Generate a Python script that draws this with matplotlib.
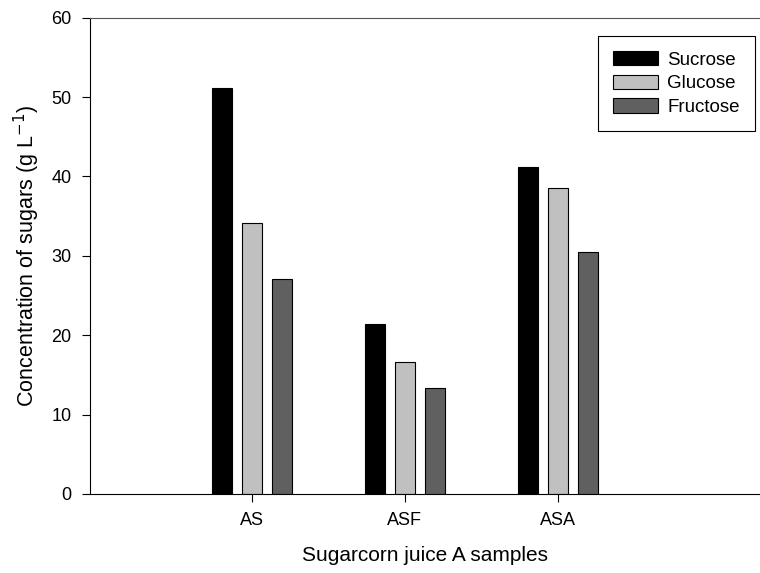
import numpy as np
import matplotlib
matplotlib.use("Agg")
import matplotlib.pyplot as plt

plt.rcParams['font.family'] = ['Liberation Sans', 'DejaVu Sans']

samples = ["AS", "ASF", "ASA"]
sucrose = [51.2, 21.4, 41.2]
glucose = [34.1, 16.6, 38.5]
fructose = [27.1, 13.4, 30.5]

series = [("Sucrose", sucrose, "#000000"),
          ("Glucose", glucose, "#c0c0c0"),
          ("Fructose", fructose, "#606060")]

fig = plt.figure(figsize=(7.6, 5.73), dpi=100)
ax = fig.add_axes([0.118, 0.138, 0.882, 0.831])

x = np.arange(1, len(samples) + 1)
width = 0.13
offset = 0.196
for i, (name, vals, color) in enumerate(series):
    ax.bar(x + (i - 1) * offset, vals, width, color=color, edgecolor="black",
           linewidth=0.8, label=name)

ax.set_xlim(-0.06, 4.32)
ax.set_ylim(0, 60)
ax.set_yticks(range(0, 61, 10))
ax.set_xticks(x)
ax.set_xticklabels(samples)
ax.tick_params(axis="both", direction="out", length=6, labelsize=13, pad=7)
ax.spines["right"].set_visible(False)
ax.spines["top"].set_color("#555555")

ax.set_ylabel("Concentration of sugars (g L$^{-1}$)", fontsize=15.5, labelpad=7)
ax.set_xlabel("Sugarcorn juice A samples", fontsize=15, labelpad=12)

leg = ax.legend(loc="upper right", bbox_to_anchor=(0.992, 0.962), fontsize=13.5,
                fancybox=False, edgecolor="black", framealpha=1,
                handlelength=2.4, handleheight=0.8, borderpad=0.8,
                labelspacing=0.32, handletextpad=0.5, borderaxespad=0)
leg.get_frame().set_linewidth(0.8)

fig.savefig("out.png", dpi=100)
